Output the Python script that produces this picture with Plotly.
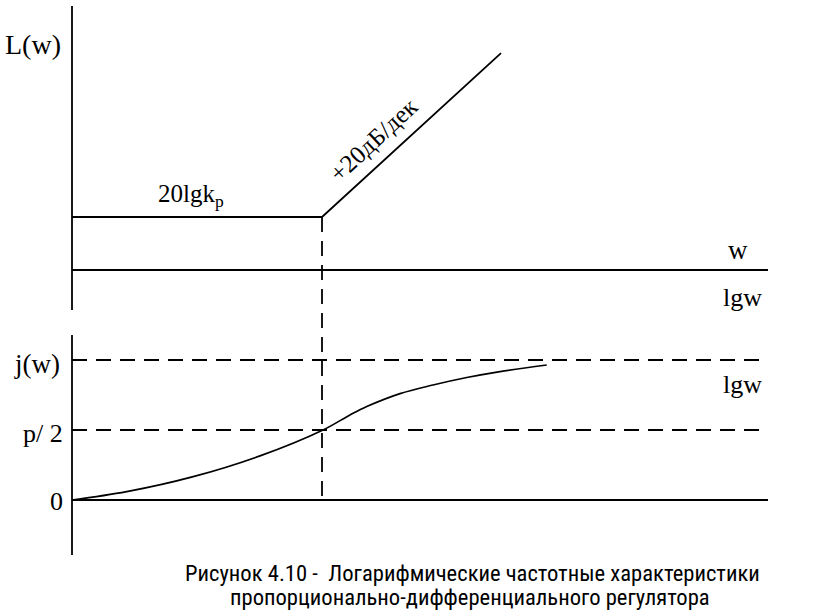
import plotly.graph_objects as go

# ---------------- data (logical units) ----------------
# x: lg w, corner frequency at lg w = 1
x_corner = 1.0
x_top_end = 1.716          # end of the +20 dB/dec asymptote
x_axis_end = 2.784         # end of horizontal axes
L_level = 1.0              # 20 lg kp level
L_top_end = 4.09           # L at end of slope
L_axis = [4.98, -0.755]    # vertical L axis extent

phi_axis = [2.357, -0.786] # vertical phi axis extent
phi_half = 1.0             # p/2 level
phi_top = 2.0              # j(w) dashed level

phase_x = [0.0, 0.219, 0.485, 0.752, 1.004, 1.112, 1.179, 1.312, 1.444, 1.579, 1.712, 1.899]
phase_y = [0.0, 0.119, 0.333, 0.630, 1.0, 1.215, 1.335, 1.52, 1.643, 1.75, 1.835, 1.929]

caption1 = "Рисунок 4.10 -\u00a0 Логарифмические частотные характеристики"
caption2 = "пропорционально-дифференциального регулятора"

# ---------------- axis ranges ----------------
W, H = 816, 612
XR = [-0.288, 2.976]
YR1 = [-6.453, 5.094]   # top panel (L)
YR2 = [-1.6, 7.143]     # bottom panel (phi)


def phi_to_L(v):
    frac = (v - YR2[0]) / (YR2[1] - YR2[0])
    return YR1[0] + frac * (YR1[1] - YR1[0])


BLK = "black"
LW = 1.8
DASH = "15px,9px"

fig = go.Figure()


def line(x, y, yaxis="y", dash=None, width=LW, shape="linear"):
    ln = dict(color=BLK, width=width, dash=dash, shape=shape)
    if shape == "spline":
        ln["smoothing"] = 1.0
    fig.add_trace(go.Scatter(x=x, y=y, yaxis=yaxis, mode="lines", line=ln,
                             hoverinfo="skip", showlegend=False))


# top panel
line([0, 0], L_axis)
line([0, x_axis_end], [0, 0])
line([0, x_corner, x_top_end], [L_level, L_level, L_top_end])
line([x_corner, x_corner], [L_level, phi_to_L(0)], dash=DASH)

# bottom panel
line([0, 0], phi_axis, yaxis="y2")
line([0, x_axis_end], [0, 0], yaxis="y2")
line([0, x_axis_end], [phi_half, phi_half], yaxis="y2", dash=DASH)
line([0, x_axis_end], [phi_top, phi_top], yaxis="y2", dash=DASH)
line(phase_x, phase_y, yaxis="y2", width=1.7, shape="spline")


def P(px, py):
    return px / W, 1 - py / H


SERIF = "Liberation Serif, Times New Roman, serif"
ann = []


def text(t, px, py, size=26, xanchor="center", angle=0, family=SERIF):
    x, y = P(px, py)
    ann.append(dict(text=t, x=x, y=y, xref="paper", yref="paper", showarrow=False,
                    xanchor=xanchor, yanchor="middle", textangle=angle,
                    font=dict(family=family, size=size, color=BLK)))


text("L(w)", 33, 45, size=28)
text("20lgk<sub>p</sub>", 191, 196, size=25)
text("+20дБ/дек", 374, 140, size=25, angle=-43)
text("w", 738, 250, size=27)
text("lgw", 742, 297, size=26)
text("lgw", 742, 384, size=26)
text("j(w)", 37, 364, size=27)
text("p/\u00a02", 43, 433, size=26)
text("0", 56, 501, size=26)

CAP = "Liberation Sans Narrow, Arial Narrow, Roboto Condensed, Roboto, sans-serif"
ann.append(dict(text=caption1, x=183 / W, y=1 - 573 / H, xref="paper", yref="paper",
                showarrow=False, xanchor="left", yanchor="middle",
                font=dict(family=CAP, size=22.6, color=BLK)))
ann.append(dict(text=caption2, x=228 / W, y=1 - 597 / H, xref="paper", yref="paper",
                showarrow=False, xanchor="left", yanchor="middle",
                font=dict(family=CAP, size=22.6, color=BLK)))

fig.update_layout(
    width=W, height=H, margin=dict(l=0, r=0, t=0, b=0),
    paper_bgcolor="white", plot_bgcolor="white",
    xaxis=dict(range=XR, visible=False, fixedrange=True),
    yaxis=dict(range=YR1, visible=False, fixedrange=True),
    yaxis2=dict(range=YR2, visible=False, overlaying="y", fixedrange=True),
    annotations=ann, showlegend=False,
)

fig.write_html("out.html", config={"displayModeBar": False},
               post_script="document.body.style.margin='0';document.body.style.overflow='hidden';")
